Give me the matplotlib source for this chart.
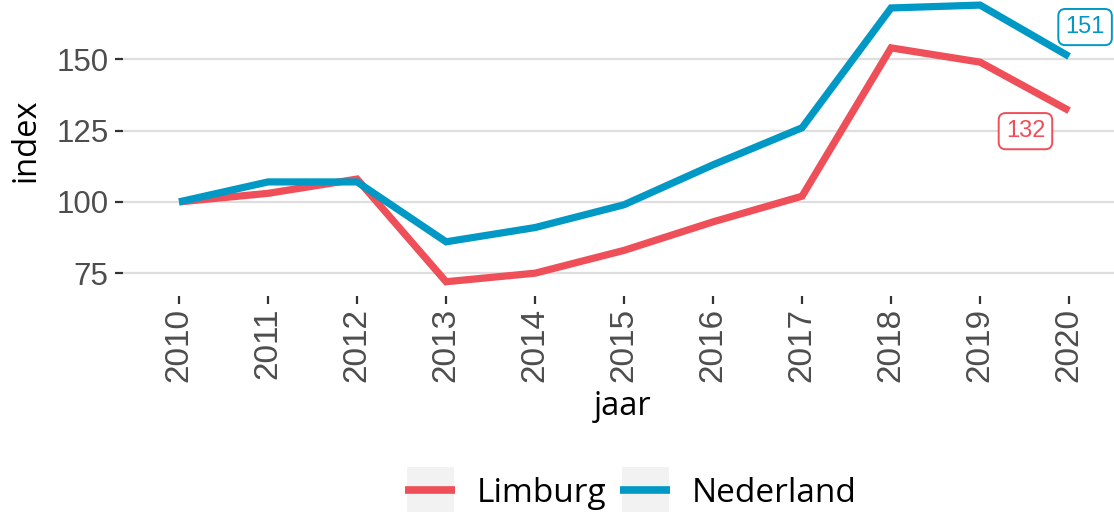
import matplotlib
matplotlib.use("Agg")
import matplotlib.pyplot as plt
from matplotlib.patches import Rectangle

years = [2010, 2011, 2012, 2013, 2014, 2015, 2016, 2017, 2018, 2019, 2020]
limburg = [100, 103, 108, 72, 75, 83, 93, 102, 154, 149, 132]
nederland = [100, 107, 107, 86, 91, 99, 113, 126, 168, 169, 151]
series_names = ["Limburg", "Nederland"]
colors = ["#ef4f58", "#0099c6"]
yticks = [75, 100, 125, 150]
last_labels = ["132", "151"]

W, H = 1114, 512
fig = plt.figure(figsize=(W / 100, H / 100), dpi=100)

TITLE_FONT = "Open Sans"

# axes geometry in pixels (from top-left)
left_px, bottom_px = 123, 296
xlim = (2009.37, 2020.6)
ylim = (67.0, 176.2)
px_per_x = 89.0
px_per_y = 2.852
w_px = (xlim[1] - xlim[0]) * px_per_x
h_px = (ylim[1] - ylim[0]) * px_per_y
ax = fig.add_axes([left_px / W, (H - bottom_px) / H, w_px / W, h_px / H])
ax.set_xlim(*xlim)
ax.set_ylim(*ylim)

for name, vals, c in zip(series_names, [limburg, nederland], colors):
    ax.plot(years, vals, color=c, lw=5.2, label=name, solid_joinstyle="miter",
            solid_capstyle="butt", zorder=3)

for s in ax.spines.values():
    s.set_visible(False)
ax.set_yticks(yticks)
ax.set_xticks(years)
ax.set_xticklabels([str(y) for y in years], rotation=90)
ax.yaxis.grid(True, color="#dedede", lw=1.6)
ax.xaxis.grid(False)
ax.set_axisbelow(True)
ax.tick_params(axis="both", length=5.5, width=1.6, color="#333333",
               labelcolor="#4d4d4d")
ax.tick_params(axis="y", labelsize=22.5, pad=5)
ax.tick_params(axis="x", labelsize=24, pad=3)
for t in ax.get_xticklabels() + ax.get_yticklabels():
    t.set_fontfamily("Liberation Sans")

ax.set_xlabel("jaar", fontsize=23.5, family=TITLE_FONT, color="black", labelpad=6)
ax.set_ylabel("index", fontsize=23.5, family=TITLE_FONT, color="black", labelpad=10)

# end labels
ax.text(2019.51, limburg[-1] - 7.2, last_labels[0], color=colors[0], fontsize=17,
        family="Liberation Sans", ha="center", va="center", zorder=5,
        bbox=dict(boxstyle="round,pad=0.3,rounding_size=0.3", fc="white",
                  ec=colors[0], lw=1.4))
ax.text(2020.18, nederland[-1] + 10.3, last_labels[1], color=colors[1], fontsize=17,
        family="Liberation Sans", ha="center", va="center", zorder=5,
        bbox=dict(boxstyle="round,pad=0.3,rounding_size=0.3", fc="white",
                  ec=colors[1], lw=1.4), clip_on=False)

handles, labels = ax.get_legend_handles_labels()
leg = fig.legend(handles, labels, loc="center", bbox_to_anchor=(631 / W, (H - 493) / H),
                 ncol=2, frameon=False, handlelength=1.5,
                 handletextpad=0.65, columnspacing=0.4,
                 prop={"family": TITLE_FONT, "size": 24})

fig.canvas.draw()
r = fig.canvas.get_renderer()
for ln in leg.get_lines():
    bb = ln.get_window_extent(r)
    cx = (bb.x0 + bb.x1) / 2
    cy = (bb.y0 + bb.y1) / 2
    fig.patches.append(Rectangle((cx - 23.5, cy - 23), 47, 46, transform=None,
                                 facecolor="#f2f2f2", edgecolor="none", zorder=0))
    ln.set_linewidth(5.5)

fig.savefig("out.png", dpi=100)
